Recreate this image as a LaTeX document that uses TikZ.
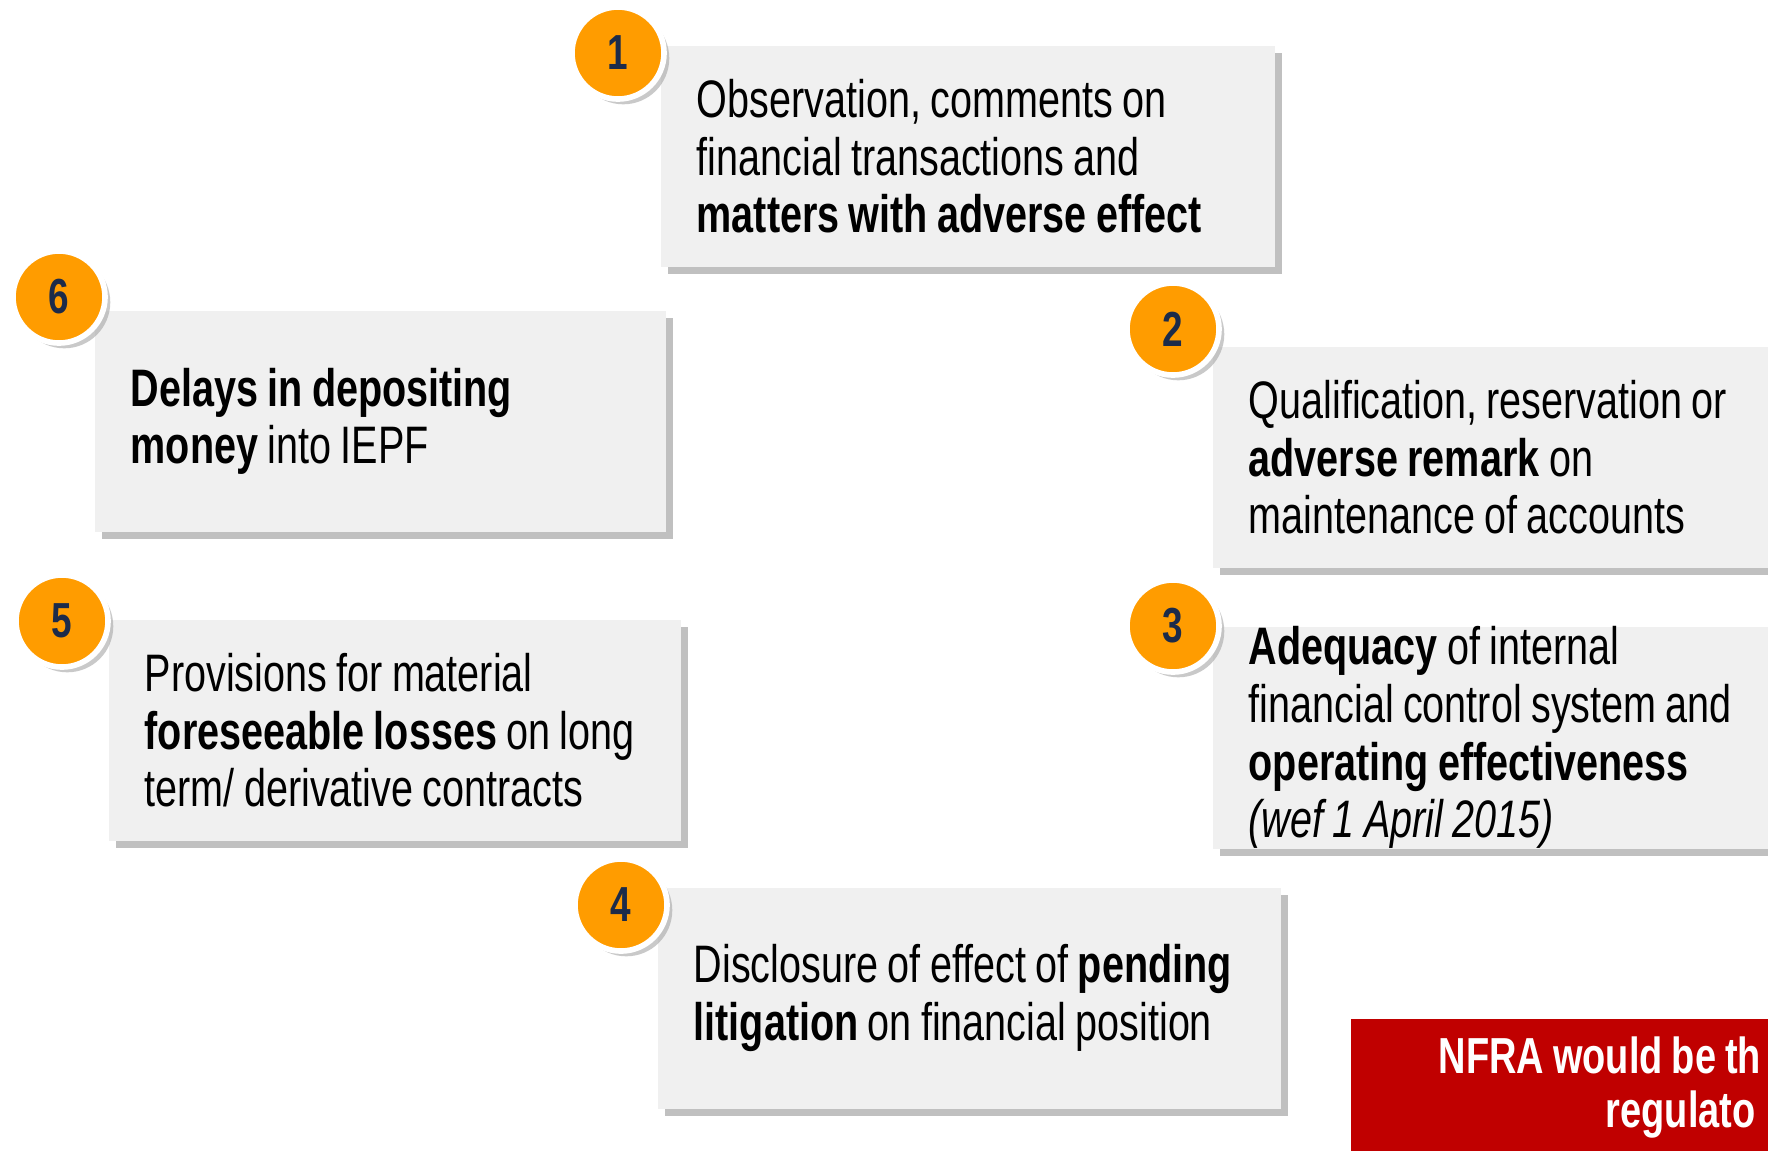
\documentclass[tikz,border=0pt]{standalone}
\usepackage{fontspec}
\setmainfont{Liberation Sans}[FakeStretch=0.75, WordSpace=0.85]
\usetikzlibrary{shadows}
\hyphenpenalty=10000

\definecolor{naranja}{HTML}{FF9C00}
\definecolor{gris}{HTML}{F0F0F0}
\definecolor{azul}{HTML}{1C2B4A}
\definecolor{rojo}{HTML}{C00000}

\tikzset{
    caja/.style={rectangle, fill=gris, anchor=north west, align=flush left,
        inner xsep=0.36cm, inner ysep=0pt, minimum height=2.21cm,
        font=\fontsize{15}{16.4}\selectfont,
        drop shadow={shadow xshift=2pt, shadow yshift=-2pt, fill=black!35, opacity=0.7}},
    numero/.style={circle, fill=naranja, draw=white, line width=1.6pt,
        minimum size=0.92cm, inner sep=0pt, text=azul,
        font=\fontsize{14}{14}\selectfont\bfseries,
        drop shadow={shadow xshift=1.5pt, shadow yshift=-1.5pt, fill=black!35, opacity=0.6}},
    aviso/.style={anchor=west, text=white, inner sep=0pt,
        font=\fontsize{14.4}{16.4}\selectfont\bfseries}
}

\begin{document}
\begin{tikzpicture}[x=0.01cm, y=-0.01cm]

    % Fijamos el marco
    \clip (0,0) rectangle (1768,1150);
    \fill[white] (0,0) rectangle (1768,1150);

    % Dibujamos las cajas
    \node[caja, text width=5.42cm] (caja1) at (660,45)
        {Observation, comments on\\financial transactions and\\\textbf{matters with adverse effect}};
    \node[caja, text width=4.99cm] (caja6) at (94,310)
        {\textbf{Delays in depositing}\\\textbf{money} into IEPF};
    \node[caja, text width=5.16cm] (caja2) at (1212,346)
        {Qualification, reservation or\\\textbf{adverse remark} on\\maintenance of accounts};
    \node[caja, text width=5.00cm] (caja5) at (108,619)
        {Provisions for material\\\textbf{foreseeable losses} on long\\term/ derivative contracts};
    \node[caja, text width=5.16cm] (caja3) at (1212,626)
        {\textbf{Adequacy} of internal\\financial control system and\\\textbf{operating effectiveness}\\\textit{(wef 1 April 2015)}};
    \node[caja, text width=5.51cm] (caja4) at (657,887)
        {Disclosure of effect of \textbf{pending}\\\textbf{litigation} on financial position};

    % Marcamos los numeros
    \node[numero] (num1) at (618,53) {1};
    \node[numero] (num6) at (59,297) {6};
    \node[numero] (num2) at (1173,329) {2};
    \node[numero] (num5) at (62,621) {5};
    \node[numero] (num3) at (1173,626) {3};
    \node[numero] (num4) at (621,905) {4};

    % Recuadro rojo
    \node[rectangle, fill=rojo, anchor=north west, minimum width=5cm,
        minimum height=2cm, inner sep=0pt] (nfra) at (1350,1018) {};
    \node[aviso] (nfra1) at (1438,1055) {NFRA would be th};
    \node[aviso] (nfra2) at (1605,1114) {regulato};

\end{tikzpicture}
\end{document}
